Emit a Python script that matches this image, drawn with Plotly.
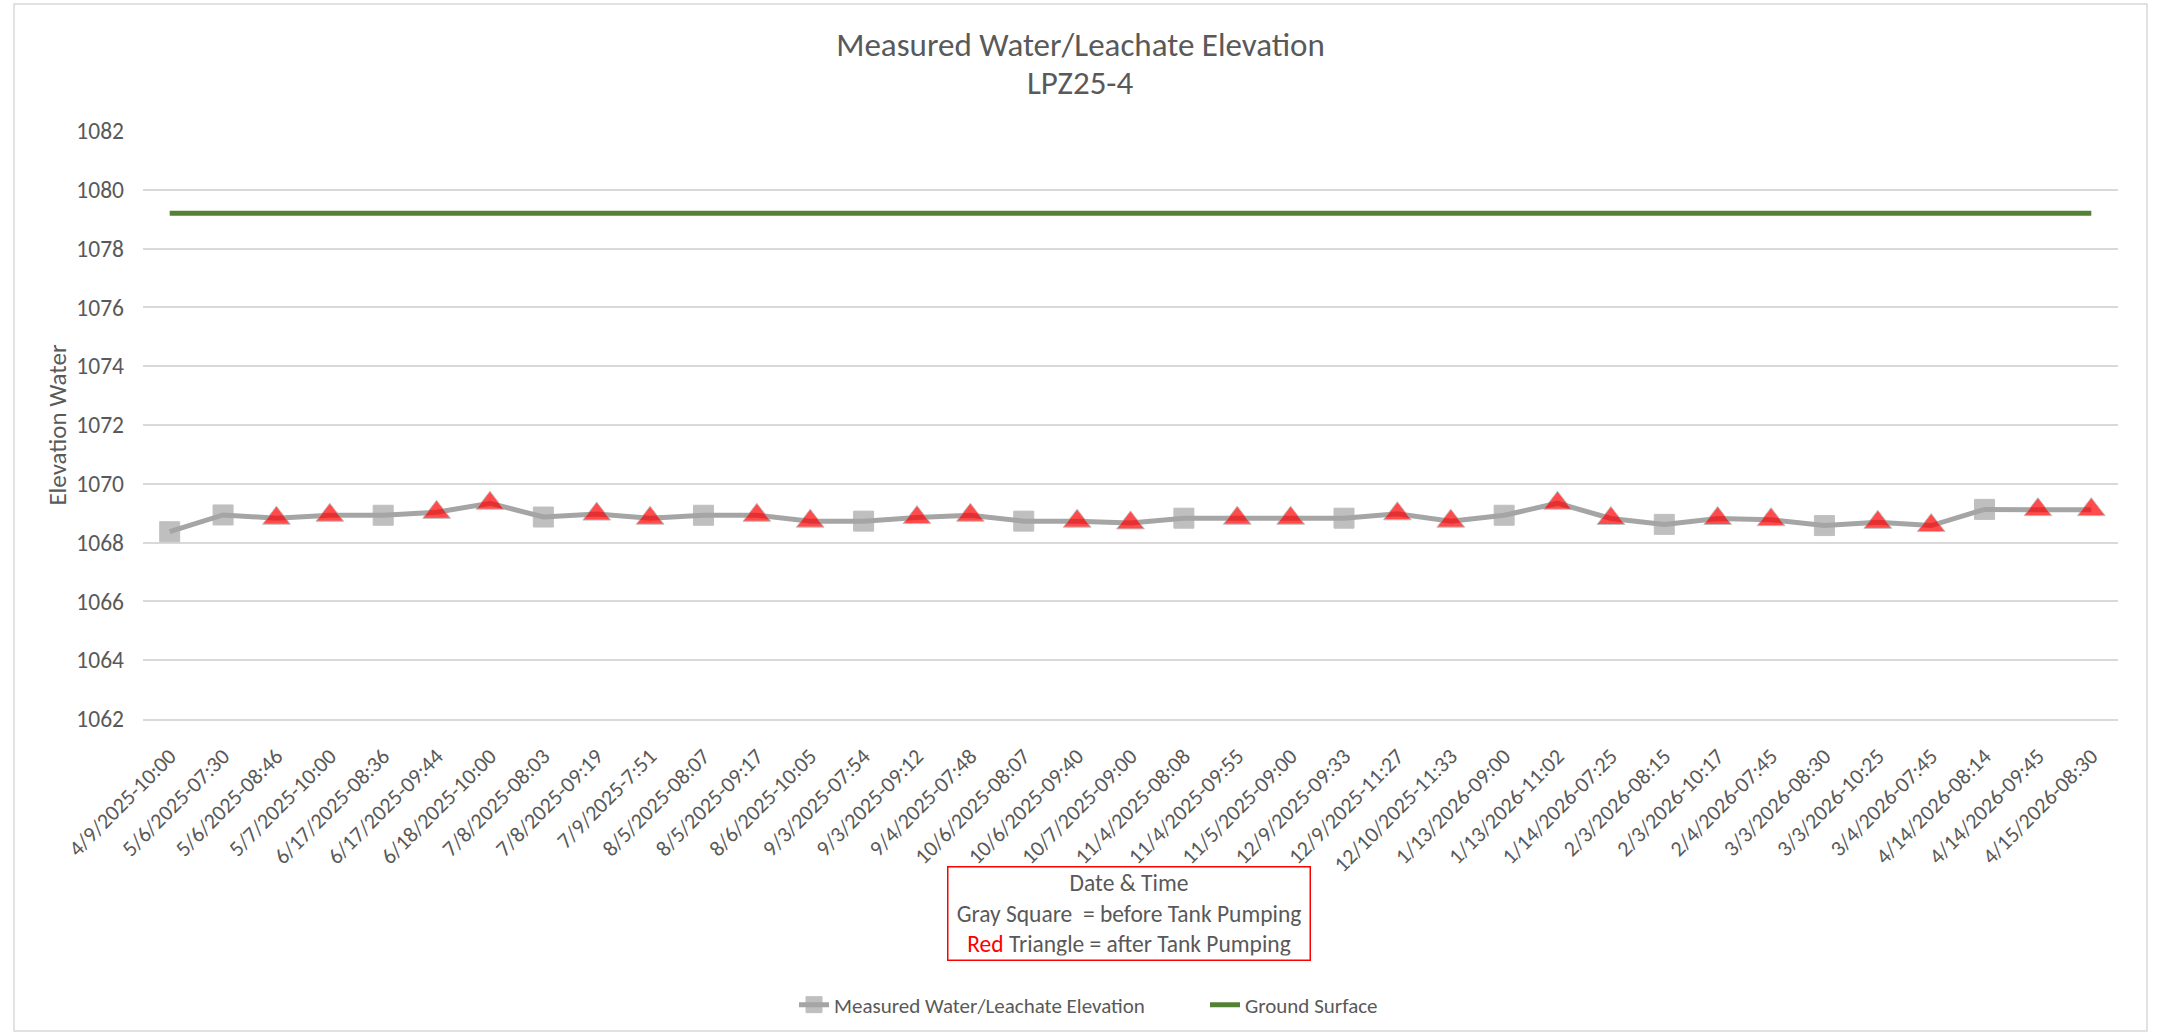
import plotly.graph_objects as go

# ---------------- data ----------------
sample_times = [
    "4/9/2025-10:00", "5/6/2025-07:30", "5/6/2025-08:46", "5/7/2025-10:00",
    "6/17/2025-08:36", "6/17/2025-09:44", "6/18/2025-10:00", "7/8/2025-08:03",
    "7/8/2025-09:19", "7/9/2025-7:51", "8/5/2025-08:07", "8/5/2025-09:17",
    "8/6/2025-10:05", "9/3/2025-07:54", "9/3/2025-09:12", "9/4/2025-07:48",
    "10/6/2025-08:07", "10/6/2025-09:40", "10/7/2025-09:00", "11/4/2025-08:08",
    "11/4/2025-09:55", "11/5/2025-09:00", "12/9/2025-09:33", "12/9/2025-11:27",
    "12/10/2025-11:33", "1/13/2026-09:00", "1/13/2026-11:02", "1/14/2026-07:25",
    "2/3/2026-08:15", "2/3/2026-10:17", "2/4/2026-07:45", "3/3/2026-08:30",
    "3/3/2026-10:25", "3/4/2026-07:45", "4/14/2026-08:14", "4/14/2026-09:45",
    "4/15/2026-08:30",
]

water_elevation = [
    1068.37, 1068.94, 1068.83, 1068.93, 1068.93, 1069.03, 1069.34, 1068.87,
    1068.97, 1068.83, 1068.93, 1068.93, 1068.73, 1068.73, 1068.85, 1068.93,
    1068.73, 1068.73, 1068.67, 1068.83, 1068.83, 1068.83, 1068.83, 1068.98,
    1068.73, 1068.93, 1069.34, 1068.82, 1068.62, 1068.82, 1068.78, 1068.58,
    1068.69, 1068.58, 1069.13, 1069.12, 1069.12,
]

# "before" = gray square (before tank pumping), "after" = red triangle
pumping_phase = [
    "before", "before", "after", "after", "before", "after", "after", "before",
    "after", "after", "before", "after", "after", "before", "after", "after",
    "before", "after", "after", "before", "after", "after", "before", "after",
    "after", "before", "after", "after", "before", "after", "after", "before",
    "after", "after", "before", "after", "after",
]

ground_surface = [
    1079.2, 1079.2, 1079.2, 1079.2, 1079.2, 1079.2, 1079.2, 1079.2, 1079.2,
    1079.2, 1079.2, 1079.2, 1079.2, 1079.2, 1079.2, 1079.2, 1079.2, 1079.2,
    1079.2, 1079.2, 1079.2, 1079.2, 1079.2, 1079.2, 1079.2, 1079.2, 1079.2,
    1079.2, 1079.2, 1079.2, 1079.2, 1079.2, 1079.2, 1079.2, 1079.2, 1079.2,
    1079.2,
]

y_ticks = [1062, 1064, 1066, 1068, 1070, 1072, 1074, 1076, 1078, 1080, 1082]

chart_title = "Measured Water/Leachate Elevation"
chart_subtitle = "LPZ25-4"

# ---------------- styling ----------------
FONT = "Carlito, Calibri, Lato, sans-serif"
TXT = "#595959"
GRAY = "#A5A5A5"
RED = "#FF0000"
GREEN = "#548235"
GRID = "#D9D9D9"

W_FIG, H_FIG = 2161, 1036
L, R, T, B = 143, 2118, 131, 719


def px_x(x):
    return (x - L) / (R - L)


def px_y(y):
    return (B - y) / (B - T)


symbols = ["square" if p == "before" else "triangle-up" for p in pumping_phase]
fills = [GRAY if p == "before" else RED for p in pumping_phase]
sizes = [20 if p == "before" else 24 for p in pumping_phase]

fig = go.Figure()

fig.add_trace(go.Scatter(
    x=sample_times, y=water_elevation, mode="lines+markers",
    name="Measured Water/Leachate Elevation",
    line=dict(color=GRAY, width=5),
    marker=dict(symbol=symbols, color=fills, size=sizes,
                line=dict(color=GRAY, width=1)),
))

fig.add_trace(go.Scatter(
    x=sample_times, y=ground_surface, mode="lines",
    name="Ground Surface",
    line=dict(color=GREEN, width=5),
))

fig.update_layout(
    width=W_FIG, height=H_FIG,
    margin=dict(l=L, r=W_FIG - R, t=T, b=H_FIG - B, autoexpand=False),
    paper_bgcolor="white", plot_bgcolor="white",
    font=dict(family=FONT, color=TXT, size=21),
    title=dict(
        text=chart_title,
        x=0.5, xref="container", xanchor="center",
        y=1 - 44 / H_FIG, yref="container", yanchor="middle",
        font=dict(family=FONT, size=33, color=TXT),
    ),
    showlegend=True,
    legend=dict(
        orientation="h", x=794 / W_FIG, xanchor="left", xref="container",
        y=1 - 1005 / H_FIG, yanchor="middle", yref="container",
        font=dict(family=FONT, size=21, color=TXT),
        bgcolor="rgba(0,0,0,0)", traceorder="normal",
        entrywidthmode="pixels", entrywidth=366,
    ),
)

fig.update_xaxes(
    type="category", range=[-0.5, len(sample_times) - 0.5],
    tickangle=-45, showgrid=False, automargin=False,
    showline=True, linecolor=GRID, linewidth=1.5,
    ticks="", ticklabelstandoff=14,
    tickfont=dict(family=FONT, size=22, color=TXT),
)

fig.update_yaxes(
    range=[1062, 1082], tickvals=y_ticks, automargin=False,
    showgrid=True, gridcolor=GRID, gridwidth=1.5,
    zeroline=False, showline=False, ticks="",
    ticklabelstandoff=18,
    tickfont=dict(family=FONT, size=23.5, color=TXT),
    title=dict(text="Elevation Water", standoff=2,
               font=dict(family=FONT, size=25, color=TXT)),
)

# subtitle line of the title
fig.add_annotation(
    xref="paper", yref="paper", x=px_x(1080), y=px_y(83),
    xanchor="center", yanchor="middle", showarrow=False,
    text=chart_subtitle, font=dict(family=FONT, size=33, color=TXT),
)

# explanatory text box
fig.add_annotation(
    xref="paper", yref="paper", x=px_x(1129), y=px_y(913),
    xanchor="center", yanchor="middle", showarrow=False,
    text=("Date &amp; Time<br>Gray Square\u00a0 = before Tank Pumping<br>"
          "<span style='color:#FF0000'>Red</span> Triangle = after Tank Pumping"),
    font=dict(family=FONT, size=23.5, color=TXT), align="center",
    bordercolor=RED, borderwidth=1.5, borderpad=4, bgcolor="white",
    width=353, height=84,
)

# chart-area border
fig.add_shape(
    type="rect", xref="paper", yref="paper",
    x0=px_x(14), x1=px_x(2147), y0=px_y(1031), y1=px_y(4),
    line=dict(color=GRID, width=1.5), fillcolor="rgba(0,0,0,0)", layer="below",
)

fig.write_html(
    "out.html",
    config={"displayModeBar": False},
    post_script="document.body.style.margin='0px';document.body.style.overflow='hidden';",
)
